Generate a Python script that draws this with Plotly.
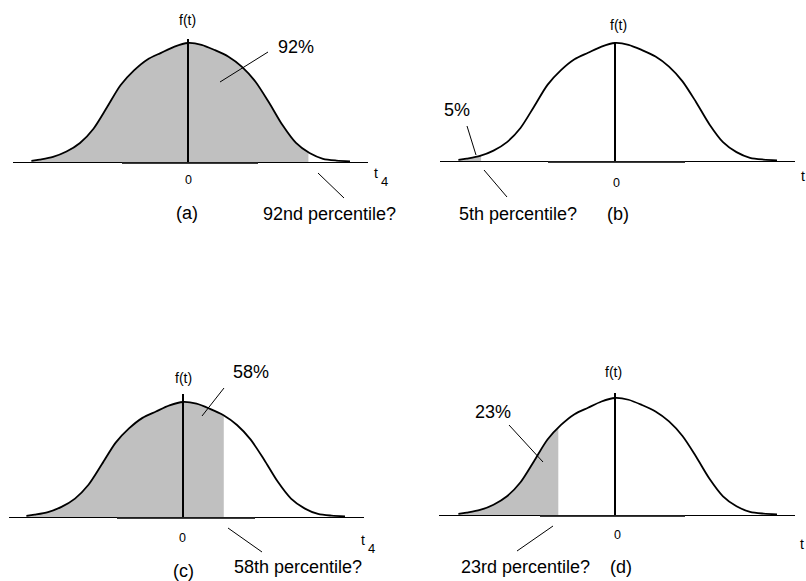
import numpy as np
import plotly.graph_objects as go

# ---------------- data ----------------
t_grid = [-2.9, -2.75, -2.5, -2.25, -2.0, -1.75, -1.5, -1.25, -1.0, -0.75, -0.5, -0.25,
          0.0, 0.25, 0.5, 0.75, 1.0, 1.25, 1.5, 1.75, 2.0, 2.25, 2.5, 2.75, 3.0]
density = [0.009, 0.02, 0.043, 0.088, 0.16, 0.28, 0.46, 0.645, 0.77, 0.862, 0.917, 0.97,
           1.0, 0.985, 0.94, 0.885, 0.80, 0.675, 0.50, 0.31, 0.16, 0.075, 0.027, 0.012, 0.006]
cutoffs = [2.23, -2.48, 0.755, -1.05]
percent_labels = ["92%", "5%", "58%", "23%"]
percentile_labels = ["92nd percentile?", "5th percentile?", "58th percentile?", "23rd percentile?"]
panel_labels = ["(a)", "(b)", "(c)", "(d)"]
zero_tick = ["0"]
y_label = "f(t)"
x_label = "t"
x_label_sub = "4"

# ---------------- layout geometry (pixels) ----------------
W, H = 806, 581
UX = 54.0  # pixels per t unit
panels = [
    dict(cx=188, base=162, left=13, right=368, top=39, peak=43,
         ft=(187, 20), zero=(188, 180), tl=(376, 173), sub=(384, 181), pct=(296, 47), lab=(187, 213),
         pl=(329, 214), lead1=((220, 82), (268, 52)), lead2=((318, 173), (344, 198)), dark=(122, 258)),
    dict(cx=615, base=161, left=440, right=795, top=42, peak=43,
         ft=(618, 25), zero=(616, 183), tl=(803, 176), sub=(811, 184), pct=(457, 110), lab=(618, 214),
         pl=(518, 214), lead1=((467, 126), (476, 155)), lead2=((484, 170), (507, 197)), dark=(548, 685)),
    dict(cx=183, base=517, left=9, right=364, top=394, peak=402,
         ft=(183, 378), zero=(182, 538), tl=(363, 540), sub=(371, 548), pct=(251, 372), lab=(183, 571),
         pl=(298, 567), lead1=((202, 416), (224, 388)), lead2=((228, 528), (262, 552)), dark=(117, 255)),
    dict(cx=615, base=515, left=439, right=795, top=393, peak=398,
         ft=(613, 372), zero=(617, 535), tl=(802, 544), sub=(810, 552), pct=(493, 412), lab=(621, 567),
         pl=(525, 567), lead1=((509, 425), (543, 462)), lead2=((553, 526), (517, 551)), dark=(540, 685)),
]


def fx(p):
    return p / W


def fy(p):
    return 1 - p / H


FONT = "Liberation Sans, Arial, Helvetica, sans-serif"
fig = go.Figure()
layout = dict(width=W, height=H, margin=dict(l=0, r=0, t=0, b=0),
              paper_bgcolor="white", plot_bgcolor="rgba(0,0,0,0)", showlegend=False)
annotations = []
shapes = []

for i, p in enumerate(panels):
    n = "" if i == 0 else str(i + 1)
    xa, ya = "x" + n, "y" + n
    cut = cutoffs[i]
    # shaded area up to cutoff
    fill_x = [t for t in t_grid if t < cut] + [cut]
    fill_y = [d for t, d in zip(t_grid, density) if t < cut] + [float(np.interp(cut, t_grid, density))]
    fig.add_trace(go.Scatter(x=fill_x, y=fill_y, mode="lines", line=dict(width=0, shape="spline"),
                             fill="tozeroy", fillcolor="#c0c0c0", xaxis=xa, yaxis=ya, hoverinfo="skip"))
    fig.add_trace(go.Scatter(x=t_grid, y=density, mode="lines",
                             line=dict(color="black", width=1.8, shape="spline", smoothing=0.8),
                             xaxis=xa, yaxis=ya, hoverinfo="skip"))

    h = p["base"] - p["peak"]
    layout["xaxis" + n] = dict(domain=[fx(p["left"]), fx(p["right"])],
                               range=[(p["left"] - p["cx"]) / UX, (p["right"] - p["cx"]) / UX],
                               anchor=ya, showline=True, linecolor="black", linewidth=1.3,
                               showgrid=False, zeroline=False, showticklabels=False, ticks="",
                               layer="above traces", fixedrange=True)
    layout["yaxis" + n] = dict(domain=[fy(p["base"]), fy(p["top"])],
                               range=[0, (p["base"] - p["top"]) / h],
                               anchor="free", position=fx(p["cx"]), showline=True, linecolor="black",
                               linewidth=2, showgrid=False, zeroline=False, showticklabels=False,
                               ticks="", layer="above traces", fixedrange=True)

    def ann(text, pos, size, xanchor="center"):
        annotations.append(dict(text=text, x=fx(pos[0]), y=fy(pos[1]), xref="paper", yref="paper",
                                xanchor=xanchor, yanchor="middle", showarrow=False,
                                font=dict(family=FONT, size=size, color="black")))

    ann(y_label, p["ft"], 14)
    ann(zero_tick[0], p["zero"], 12.5)
    ann(x_label, p["tl"], 14)
    ann(x_label_sub, p["sub"], 13)
    ann(percent_labels[i], p["pct"], 18)
    ann(panel_labels[i], p["lab"], 18)
    ann(percentile_labels[i], p["pl"], 18)
    for (x0, y0), (x1, y1) in (p["lead1"], p["lead2"]):
        shapes.append(dict(type="line", xref="paper", yref="paper", x0=fx(x0), y0=fy(y0),
                           x1=fx(x1), y1=fy(y1), line=dict(color="black", width=1)))
    d0, d1 = p["dark"]
    shapes.append(dict(type="line", xref="paper", yref="paper", x0=fx(d0), x1=fx(d1),
                       y0=fy(p["base"] + 1.2), y1=fy(p["base"] + 1.2),
                       line=dict(color="#3a3a3a", width=1.6)))

layout["annotations"] = annotations
layout["shapes"] = shapes
fig.update_layout(**layout)
fig.write_html("out.html", config={"displayModeBar": False},
               post_script="document.body.style.margin='0px';document.body.style.overflow='hidden';")
